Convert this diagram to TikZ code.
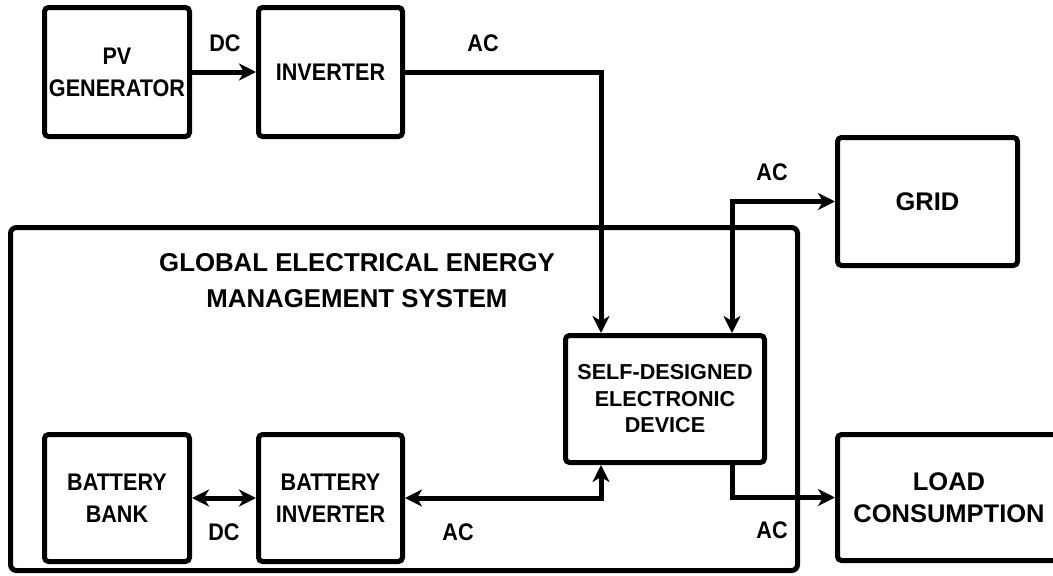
\documentclass[tikz,border=0pt]{standalone}
\usepackage{fontspec}
\setmainfont{Liberation Sans}
\newfontfamily\narrowsf[FakeStretch=0.9]{Liberation Sans}
\usetikzlibrary{arrows.meta}
\begin{document}
\begin{tikzpicture}[x=1pt,y=-1pt,line width=5pt,line join=miter,
>={Stealth[length=17pt,width=17pt,inset=5pt]},
block/.style={draw,rounded corners=4pt,align=center,inner sep=0pt},
lbl/.style={font=\narrowsf\bfseries\fontsize{24}{32}\selectfont,align=center},
wide/.style={font=\bfseries\fontsize{25.5}{32}\selectfont,align=center}]
\useasboundingbox (0,0) rectangle (1053,576);
% system frame
\node[block,rounded corners=6pt,minimum width=787pt,minimum height=343pt] (gems) at (404,399) {};
\node[font=\bfseries\fontsize{25.8}{36}\selectfont,align=center] (title) at (357,281) {GLOBAL ELECTRICAL ENERGY\\MANAGEMENT SYSTEM};
% blocks
\node[block,lbl,minimum width=145pt,minimum height=129pt] (pv) at (117,72) {PV\\GENERATOR};
\node[block,lbl,minimum width=144pt,minimum height=129pt] (inv) at (330.5,72) {INVERTER};
\node[block,wide,minimum width=180pt,minimum height=128pt] (grid) at (927.5,201.5) {GRID};
\node[block,font=\bfseries\fontsize{21.6}{26.5}\selectfont,minimum width=199pt,minimum height=127pt] (self) at (665,399) {SELF-DESIGNED\\ELECTRONIC\\DEVICE};
\node[block,wide,minimum width=223pt,minimum height=126pt] (load) at (949,497.5) {LOAD\\CONSUMPTION};
\node[block,lbl,minimum width=145pt,minimum height=127pt] (bank) at (117,498) {BATTERY\\BANK};
\node[block,lbl,minimum width=144pt,minimum height=127pt] (binv) at (330.5,498) {BATTERY\\INVERTER};
% bends
\coordinate (kinv) at (601,72);
\coordinate (kgrid) at (732,203);
% connectors
\draw[->] (pv) -- (inv);
\draw[->] (inv.east) -| (self.north -| kinv);
\draw[<->] (grid.west) -| (self.north -| kgrid);
\draw[->] (self.south -| kgrid) |- (load.west);
\draw[<->] (binv.east) -| (self.south -| kinv);
\draw[<->] (bank) -- (binv);
% labels
\node[lbl] (dcpv) at (225,43) {DC};
\node[lbl] (acinv) at (483,43) {AC};
\node[lbl] (acgrid) at (772,172) {AC};
\node[lbl] (dcbat) at (224,532) {DC};
\node[lbl] (acbat) at (458,532) {AC};
\node[lbl] (acload) at (772,530) {AC};
\end{tikzpicture}
\end{document}
